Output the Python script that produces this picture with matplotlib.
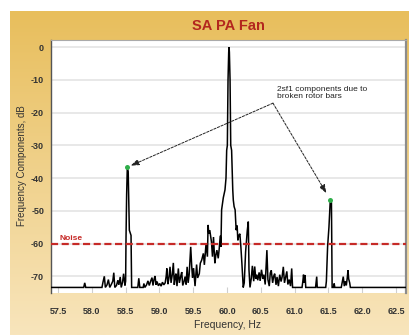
import numpy as np
import matplotlib
matplotlib.use("Agg")
import matplotlib.pyplot as plt
from matplotlib import font_manager

# ---- data -------------------------------------------------------------
freq_hz = [
    57.400, 57.880, 57.895, 57.910, 58.150, 58.165, 58.185, 58.200, 58.225, 58.245,
    58.265, 58.290, 58.310, 58.325, 58.340, 58.365, 58.385, 58.400, 58.420, 58.435,
    58.455, 58.470, 58.490, 58.500, 58.506, 58.515, 58.525, 58.538, 58.548, 58.555,
    58.580, 58.589, 58.680, 58.695, 58.710, 58.760, 58.770, 58.785, 58.810, 58.830,
    58.850, 58.870, 58.890, 58.905, 58.920, 58.935, 58.950, 58.965, 58.985, 59.005,
    59.025, 59.045, 59.065, 59.085, 59.100, 59.110, 59.125, 59.140, 59.157, 59.172,
    59.190, 59.206, 59.220, 59.235, 59.245, 59.260, 59.280, 59.295, 59.315, 59.330,
    59.345, 59.365, 59.380, 59.395, 59.410, 59.425, 59.440, 59.463, 59.478, 59.490,
    59.505, 59.527, 59.550, 59.565, 59.590, 59.605, 59.626, 59.650, 59.665, 59.690,
    59.710, 59.720, 59.730, 59.745, 59.770, 59.785, 59.800, 59.820, 59.835, 59.850,
    59.870, 59.885, 59.900, 59.910, 59.920, 59.945, 59.970, 59.985, 59.995, 60.005,
    60.015, 60.025, 60.030, 60.035, 60.045, 60.055, 60.068, 60.085, 60.093, 60.105,
    60.120, 60.135, 60.150, 60.160, 60.175, 60.190, 60.205, 60.220, 60.240, 60.255,
    60.275, 60.300, 60.315, 60.325, 60.340, 60.360, 60.375, 60.395, 60.410, 60.425,
    60.440, 60.455, 60.475, 60.490, 60.510, 60.530, 60.545, 60.565, 60.590, 60.605,
    60.625, 60.640, 60.655, 60.675, 60.690, 60.705, 60.725, 60.740, 60.760, 60.780,
    60.800, 60.815, 60.833, 60.850, 60.870, 60.885, 60.900, 60.920, 60.940, 60.957,
    60.970, 61.110, 61.122, 61.132, 61.145, 61.155, 61.165, 61.310, 61.320, 61.327,
    61.335, 61.460, 61.470, 61.488, 61.508, 61.528, 61.545, 61.555, 61.575, 61.585,
    61.595, 61.690, 61.705, 61.720, 61.735, 61.750, 61.765, 61.779, 61.790, 61.800,
    61.815, 61.825, 62.650,
]
level_db = [
    -73.4, -73.4, -72.0, -73.4, -73.4, -71.8, -70.0, -73.4, -72.6, -71.0,
    -73.4, -72.4, -71.5, -68.9, -73.4, -72.8, -71.2, -72.6, -70.2, -73.4,
    -71.8, -69.2, -72.8, -71.5, -58.0, -45.0, -36.7, -38.0, -48.7, -55.9,
    -57.5, -73.4, -73.4, -70.6, -73.4, -73.4, -72.2, -73.4, -72.6, -71.4,
    -72.8, -71.5, -70.4, -72.8, -71.0, -69.9, -72.6, -71.6, -72.9, -72.2,
    -73.0, -71.8, -72.6, -72.0, -70.0, -67.6, -72.4, -70.6, -67.1, -72.0,
    -69.5, -65.9, -72.6, -70.0, -69.2, -73.0, -67.6, -72.0, -70.0, -68.7,
    -72.8, -71.5, -70.1, -72.5, -67.1, -72.0, -69.5, -61.0, -67.0, -70.5,
    -67.5, -73.0, -66.4, -70.5, -69.2, -66.0, -65.0, -63.0, -66.5, -60.0,
    -64.0, -54.3, -57.0, -55.9, -59.5, -64.0, -58.0, -66.0, -63.5, -62.0,
    -64.5, -61.5, -57.6, -61.0, -49.7, -46.0, -43.6, -40.0, -31.5, -30.0,
    -10.0, -1.5, 0.0, -1.5, -10.0, -30.0, -31.5, -43.6, -46.7, -48.7,
    -49.7, -55.9, -54.5, -59.0, -57.5, -57.0, -61.0, -66.0, -73.4, -72.0,
    -62.5, -56.0, -53.3, -68.0, -73.4, -70.5, -66.8, -71.5, -67.0, -70.8,
    -69.5, -71.2, -68.8, -71.4, -68.0, -70.8, -69.5, -72.5, -62.0, -71.0,
    -73.0, -69.0, -68.2, -72.0, -70.0, -69.2, -72.6, -70.2, -73.0, -69.5,
    -71.6, -70.2, -67.1, -72.0, -70.0, -68.5, -72.5, -71.0, -73.0, -67.6,
    -73.4, -73.4, -71.5, -69.5, -72.0, -69.6, -73.4, -73.4, -71.5, -70.1,
    -73.4, -73.4, -71.5, -61.0, -55.0, -46.7, -47.5, -73.4, -73.4, -72.2,
    -73.4, -73.4, -71.8, -70.1, -73.0, -71.5, -72.8, -70.5, -68.1, -70.8,
    -72.0, -73.4, -73.4,
]

# broken-rotor-bar sidebands (2sf1)
sideband_hz = [58.525, 61.528]
sideband_db = [-36.7, -46.7]

noise_db = -60.0

x_ticks = [57.5, 58.0, 58.5, 59.0, 59.5, 60.0, 60.5, 61.0, 61.5, 62.0, 62.5]
x_tick_labels = ["57.5", "58.0", "58.5", "59.0", "59.5", "60.0",
                 "60.5", "61.0", "61.5", "62.0", "62.5"]
y_ticks = [0, -10, -20, -30, -40, -50, -60, -70]
y_tick_labels = ["0", "-10", "-20", "-30", "-40", "-50", "-60", "-70"]

# ---- fonts ------------------------------------------------------------
names = {f.name for f in font_manager.fontManager.ttflist}
narrow = "Liberation Sans Narrow" if "Liberation Sans Narrow" in names else "Liberation Sans"
plt.rcParams["font.family"] = [narrow, "DejaVu Sans"]

W, H = 409, 335
fig = plt.figure(figsize=(W / 100, H / 100), dpi=100)
fig.patch.set_facecolor("white")

# golden gradient panel behind the chart
bg = fig.add_axes([10 / W, 0, (W - 10) / W, 1 - 11 / H], zorder=-5)
top = np.array([232, 190, 92]) / 255
bot = np.array([248, 229, 188]) / 255
t = np.linspace(0, 1, 256)[:, None]
grad = top[None, :] * (1 - t) + bot[None, :] * t
bg.imshow(grad[:, None, :], aspect="auto", extent=[0, 1, 0, 1])
bg.set_axis_off()

# plot area
left, right, top_px, bottom_px = 51, 406, 40, 293
ax = fig.add_axes([left / W, 1 - bottom_px / H, (right - left) / W, (bottom_px - top_px) / H])
ax.set_facecolor("white")
ax.set_xlim(57.396, 62.648)
ax.set_ylim(-75.1, 2.2)

for yv in y_ticks:
    ax.axhline(yv, color="#e2e2e2", lw=1.1, zorder=1)
ax.vlines(x_ticks, -75.1, -73.4, color="#cfcfcf", lw=0.8, zorder=1)

ax.plot(freq_hz, level_db, color="black", lw=1.1, zorder=3, solid_joinstyle="miter")

ax.axhline(noise_db, color="#c62a27", lw=1.6, ls=(0, (3.2, 1.6)), zorder=4)
ax.text(57.515, -58.3, "Noise", color="#c62a27", fontsize=6, fontweight="bold",
        ha="left", va="center", zorder=5)

ax.plot(sideband_hz, sideband_db, "o", color="#2fae4a", ms=3.6, mec="none", zorder=6)

# annotation: dashed arrows from one label to both sidebands
apex = (60.68, -17.1)
tips = [(58.575, -36.2), (61.47, -44.6)]
for tip in tips:
    ax.annotate("", xy=tip, xytext=apex,
                arrowprops=dict(arrowstyle="-|>,head_length=0.5,head_width=0.18",
                                color="#222222", lw=0.7, ls=(0, (2.5, 1.5)),
                                shrinkA=0, shrinkB=0), zorder=5)
ax.text(60.74, -12.0, "2sf1 components due to\nbroken rotor bars", fontsize=6,
        color="#222222", ha="left", va="top", linespacing=1.0, zorder=5)

ax.set_xticks(x_ticks)
ax.set_xticklabels(x_tick_labels)
ax.set_yticks(y_ticks)
ax.set_yticklabels(y_tick_labels)
ax.tick_params(axis="both", length=0, labelsize=6.5, labelcolor="#333333")
ax.tick_params(axis="x", pad=10)
ax.tick_params(axis="y", pad=5)
for lab in ax.get_xticklabels() + ax.get_yticklabels():
    lab.set_fontweight("bold")

ax.spines["left"].set_color("#555555")
ax.spines["left"].set_linewidth(1.0)
ax.spines["top"].set_color("#aaaaaa")
ax.spines["top"].set_linewidth(0.8)
ax.spines["right"].set_color("#8c8c8c")
ax.spines["right"].set_linewidth(1.6)
ax.spines["bottom"].set_visible(False)

fig.text(228 / W, 1 - 26 / H, "SA PA Fan", color="#b3261e", fontsize=10.5,
         fontweight="bold", ha="center", va="center")
fig.text(228 / W, 1 - 324.5 / H, "Frequency, Hz", color="#333333", fontsize=7.5,
         ha="center", va="center")
fig.text(22 / W, 1 - 166 / H, "Frequency Components, dB", color="#333333", fontsize=7,
         ha="center", va="center", rotation=90)

fig.savefig("out.png", dpi=100)
